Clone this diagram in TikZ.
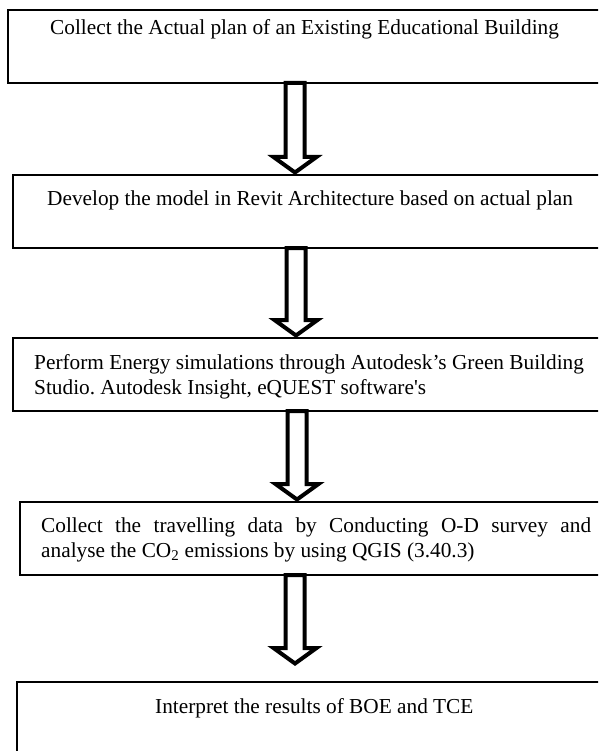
\documentclass[tikz,border=0pt]{standalone}
\usepackage{fontspec}
\setmainfont{Liberation Serif}
\newfontfamily\plainserif{Liberation Serif}[Ligatures=TeXOff]
\usetikzlibrary{calc}
\frenchspacing
\newcommand{\blockarr}[2]{%
  \draw[blk] let \p1=(#1), \p2=(#2) in
    (\x1-9.5pt,\y1) -- (\x1-9.5pt,\y2+18pt) -- (\x1-21.5pt,\y2+18pt) -- (\x1,\y2+2.5pt)
    -- (\x1+21.5pt,\y2+18pt) -- (\x1+9.5pt,\y2+18pt) -- (\x1+9.5pt,\y1) -- cycle;}
\begin{document}
\begin{tikzpicture}[x=1pt,y=-1pt,
  box/.style={draw,line width=1.8pt,rectangle,inner sep=0pt,outer sep=0pt,anchor=north west,minimum width=650pt},
  txt/.style={anchor=base west,inner sep=0pt,font=\fontsize{21.3}{25}\selectfont},
  blk/.style={draw,fill=white,line width=4pt,miter limit=10}]
\path[use as bounding box] (0,0) rectangle (598,751);
\clip (0,0) rectangle (598,751);
\node[box,minimum height=73pt] (b1) at (8,10) {};
\node[box,minimum height=73pt] (b2) at (13,175) {};
\node[box,minimum height=73pt] (b3) at (13,338) {};
\node[box,minimum height=73pt] (b4) at (20,502) {};
\node[box,minimum height=110pt] (b5) at (17,682) {};
\node[txt] (t1) at (50,35) {Collect the Actual plan of an Existing Educational Building};
\node[txt] (t2) at (47,205) {Develop the model in Revit Architecture based on actual plan};
\node[txt] (t3a) at (34,369) {Perform Energy simulations through Autodesk’s Green Building};
\node[txt] (t3b) at (34,394) {Studio. Autodesk Insight, eQUEST software{\plainserif '}s};
\node[txt] (t4a) at (41,532) {\makebox[550pt][s]{Collect the travelling data by Conducting O-D survey and}};
\node[txt] (t4b) at (41,557) {analyse the CO\textsubscript{2} emissions by using QGIS (3.40.3)};
\node[txt] (t5) at (155,713) {Interpret the results of BOE and TCE};
\coordinate (a1) at (295,0);
\coordinate (a2) at (296,0);
\coordinate (a3) at (297,0);
\coordinate (a4) at (295,0);
\coordinate (tip4) at (295,666);
\blockarr{a1 |- b1.south}{a1 |- b2.north}
\blockarr{a2 |- b2.south}{a2 |- b3.north}
\blockarr{a3 |- b3.south}{a3 |- b4.north}
\blockarr{a4 |- b4.south}{tip4}
\end{tikzpicture}
\end{document}
